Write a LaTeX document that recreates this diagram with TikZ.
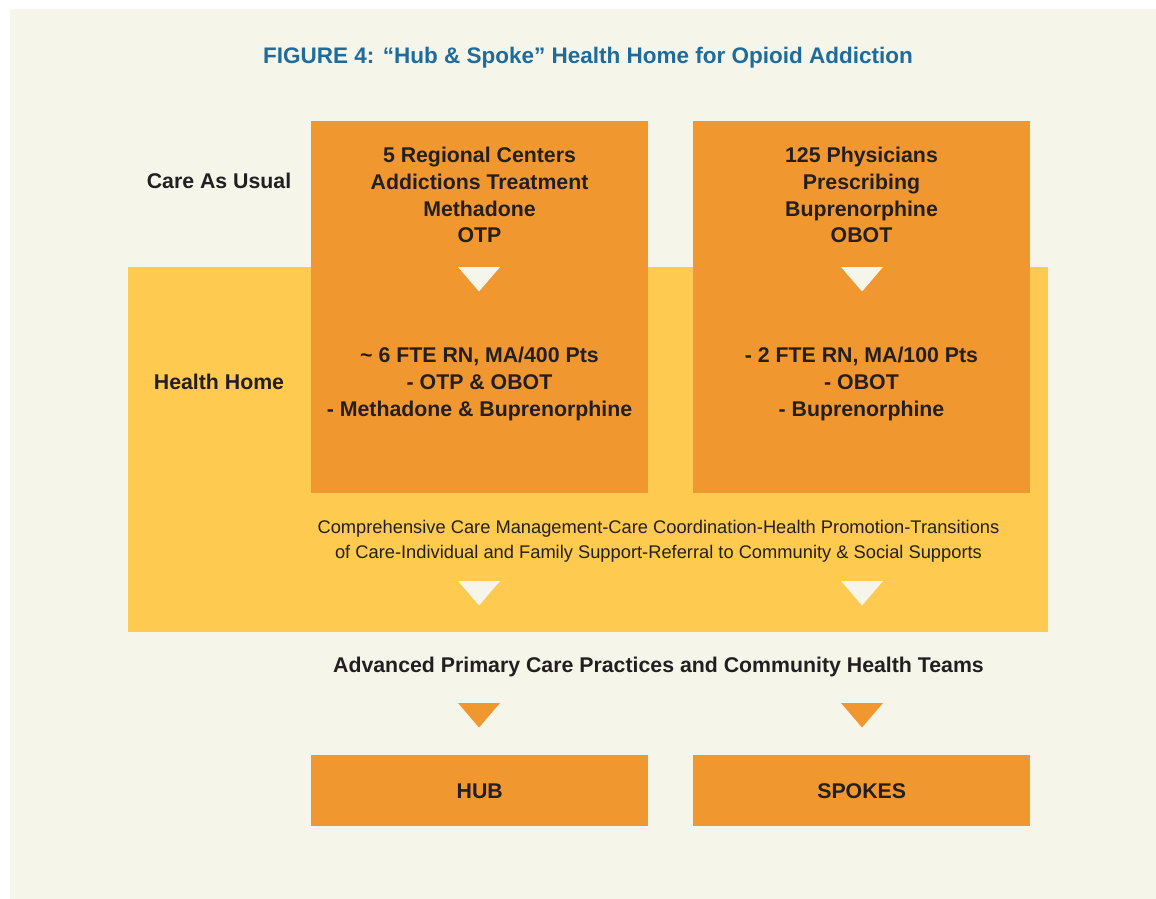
\documentclass[tikz,border=0pt]{standalone}
\usepackage{fontspec}
\setmainfont{Liberation Sans}
\definecolor{bgc}{HTML}{F5F5EA}
\definecolor{orc}{HTML}{F19730}
\definecolor{yec}{HTML}{FECB50}
\definecolor{txc}{HTML}{231F20}
\definecolor{tic}{HTML}{1F6B9C}
\tikzset{
  obox/.style={fill=orc, draw=none, inner sep=0pt, anchor=north west},
  bigtxt/.style={text=txc, align=center, inner sep=0pt, font=\fontsize{21.3}{26.8}\selectfont\bfseries},
  smalltxt/.style={text=txc, align=center, inner sep=0pt, font=\fontsize{18.3}{25}\selectfont},
  titletxt/.style={text=tic, inner sep=0pt, font=\fontsize{22.5}{27}\selectfont\bfseries},
  wtri/.style={fill=bgc},
  otri/.style={fill=orc}
}
\begin{document}
\begin{tikzpicture}[x=1pt,y=-1pt]
\useasboundingbox (0,0) rectangle (1156,899);
\fill[white] (0,0) rectangle (1156,899);
\fill[bgc] (10,9) rectangle (1156,899);
\fill[yec] (128,267) rectangle (1048,632);

\node[titletxt] (title) at (588,58) {FIGURE 4: “Hub \& Spoke” Health Home for Opioid Addiction};

\node[obox, minimum width=337pt, minimum height=372pt] (boxL) at (311,121) {};
\node[obox, minimum width=337pt, minimum height=372pt] (boxR) at (693,121) {};

\node[bigtxt] (cau) at (219,181) {Care As Usual};
\node[bigtxt] (hh) at (219,382) {Health Home};

\node[bigtxt] (tL) at (479.5,195) {5 Regional Centers\\Addictions Treatment\\Methadone\\OTP};
\node[bigtxt] (tR) at (861.5,195) {125 Physicians\\Prescribing\\Buprenorphine\\OBOT};

\node[bigtxt] (hL) at (479.5,384) {\textasciitilde{} 6 FTE RN, MA/400 Pts\\- OTP \& OBOT\\- Methadone \& Buprenorphine};
\node[bigtxt] (hR) at (861.5,384) {- 2 FTE RN, MA/100 Pts\\- OBOT\\- Buprenorphine};

\node[smalltxt] (comp) at (658.5,541) {Comprehensive Care Management-Care Coordination-Health Promotion-Transitions\\of Care-Individual and Family Support-Referral to Community \& Social Supports};

\node[bigtxt] (apc) at (658.5,667) {Advanced Primary Care Practices and Community Health Teams};

\node[obox, minimum width=337pt, minimum height=71pt] (hub) at (311,755) {};
\node[obox, minimum width=337pt, minimum height=71pt] (spk) at (693,755) {};
\node[bigtxt, anchor=base] (hubt) at (hub.center |- 0,798) {HUB};
\node[bigtxt, anchor=base] (spkt) at (spk.center |- 0,798) {SPOKES};

% arrow triangles
\foreach \cx in {479,862}{
  \fill[wtri] (\cx-21,267) -- (\cx+21,267) -- (\cx,291.5) -- cycle;
  \fill[wtri] (\cx-21,581) -- (\cx+21,581) -- (\cx,605.5) -- cycle;
  \fill[otri] (\cx-21,703) -- (\cx+21,703) -- (\cx,727.5) -- cycle;
}
\end{tikzpicture}
\end{document}
